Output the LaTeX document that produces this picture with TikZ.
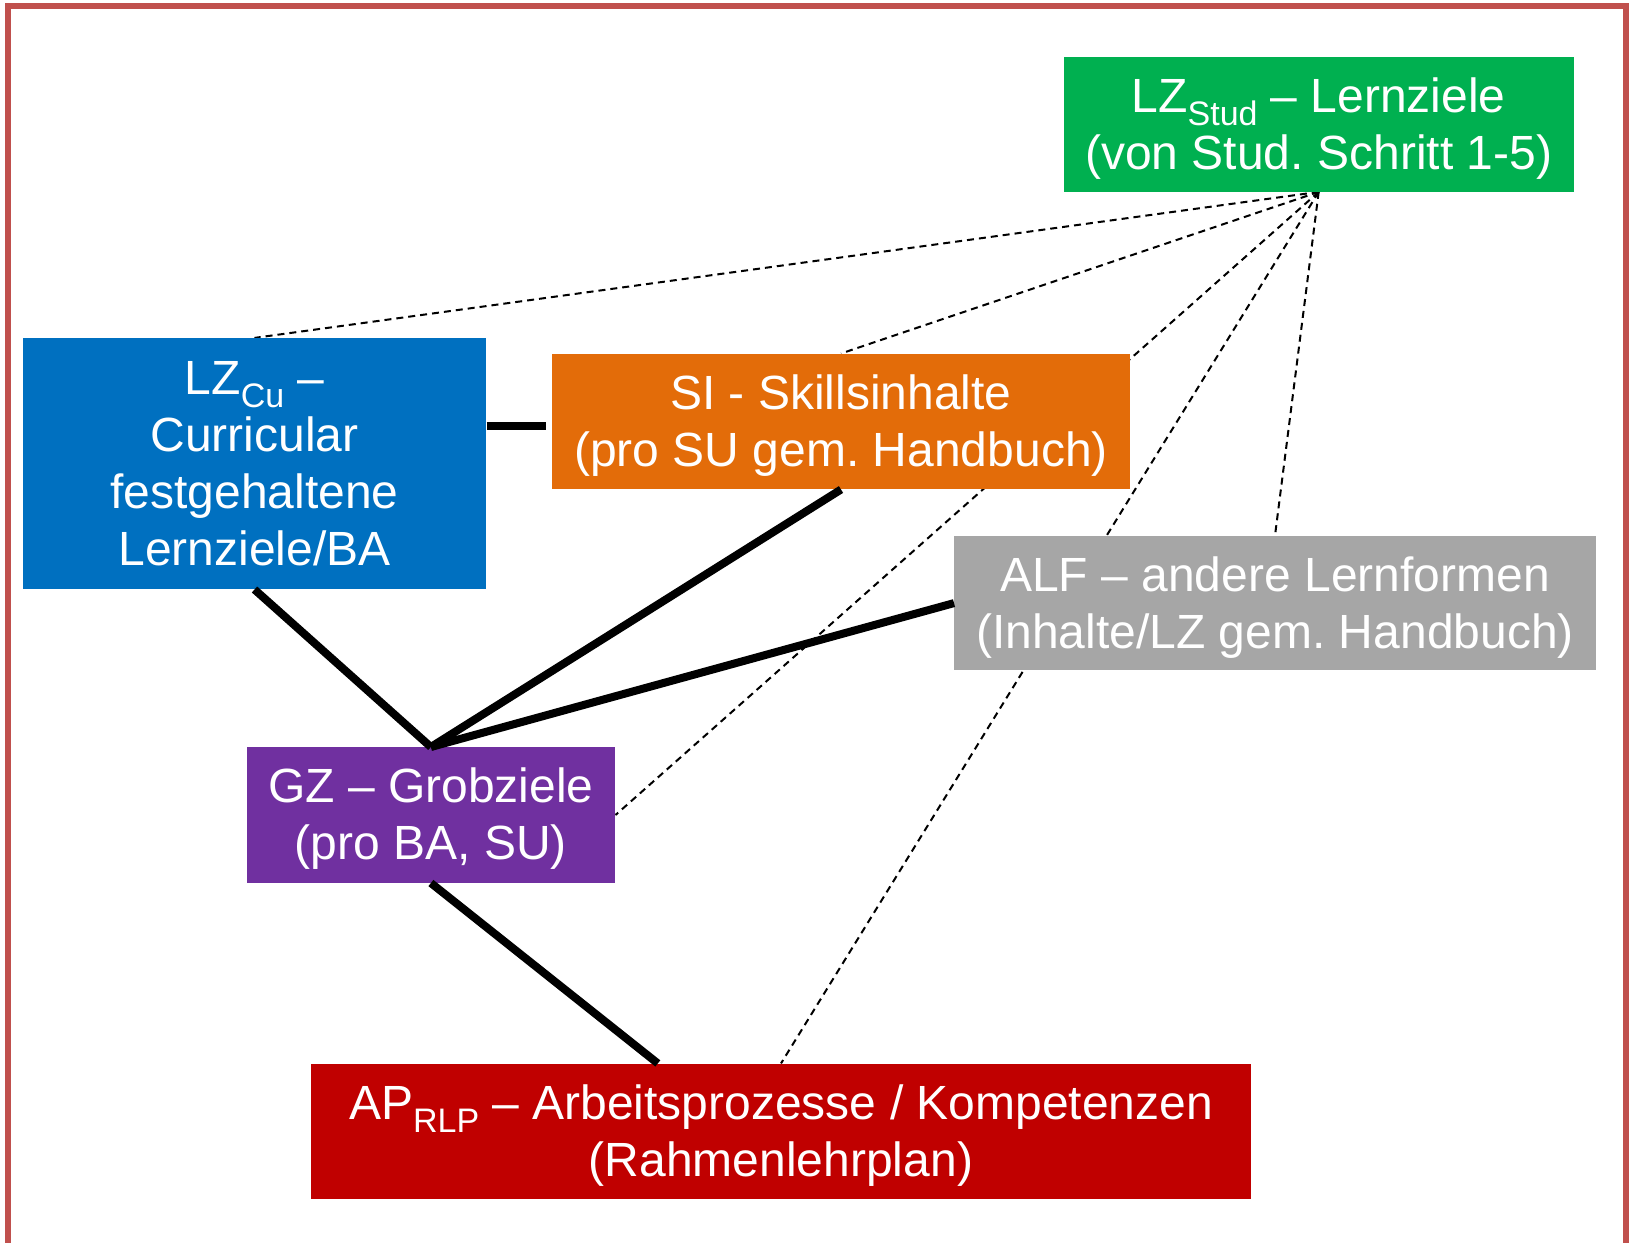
\documentclass[tikz,border=0pt]{standalone}
\usepackage{fontspec}
\setmainfont{Liberation Sans}
\frenchspacing
\definecolor{cgreen}{HTML}{00B050}
\definecolor{cblue}{HTML}{0070C0}
\definecolor{corange}{HTML}{E36C09}
\definecolor{cgray}{HTML}{A6A6A6}
\definecolor{cpurple}{HTML}{7030A0}
\definecolor{cred}{HTML}{C00000}
\definecolor{cframe}{HTML}{C0504D}
\pgfdeclarelayer{bottom}
\pgfdeclarelayer{background}
\pgfsetlayers{bottom,background,main}
\newcommand\subx[1]{\raisebox{-6.5pt}{\fontsize{17}{18}\selectfont #1}}
\tikzset{
  box/.style={rectangle, inner sep=0pt},
  txt/.style={inner sep=0pt, align=center, text=white,
    font=\fontsize{24}{28.5}\selectfont},
  solidline/.style={line width=4pt, black},
  dashline/.style={line width=1pt, black, dash pattern=on 3.5pt off 2.5pt}
}
\begin{document}
\begin{tikzpicture}[x=0.5pt, y=-0.5pt]
\useasboundingbox (0,0) rectangle (1632,1242);
\begin{pgfonlayer}{bottom}
\fill[white] (0,0) rectangle (1632,1242);
\end{pgfonlayer}
\draw[cframe, line width=3pt] (8,6) rectangle (1626,1270);

% boxes (nodes)
\node[box, fill=cgreen, minimum width=255pt, minimum height=67.2pt,
  label={[txt, yshift=-2pt]center:{LZ\subx{Stud} -- Lernziele\\(von Stud. Schritt 1-5)}}] (stud) at (1318.7,124.3) {};
\node[box, fill=cblue, minimum width=231.6pt, minimum height=125.4pt,
  label={[txt]center:{LZ\subx{Cu} --\\Curricular\\festgehaltene\\Lernziele/BA}}] (cu) at (254.5,463.7) {};
\node[box, fill=corange, minimum width=289.4pt, minimum height=67.6pt,
  label={[txt, yshift=-2pt]center:{SI - Skillsinhalte\\(pro SU gem. Handbuch)}}] (si) at (841,421.5) {};
\node[box, fill=cgray, minimum width=320.6pt, minimum height=67.2pt,
  label={[txt, yshift=-2pt]center:{ALF -- andere Lernformen\\(Inhalte/LZ gem. Handbuch)}}] (alf) at (1275,603.1) {};
\node[box, fill=cpurple, minimum width=184.2pt, minimum height=67.6pt,
  label={[txt, yshift=-2pt]center:{GZ -- Grobziele\\(pro BA, SU)}}] (gz) at (430.9,815) {};
\node[box, fill=cred, minimum width=470pt, minimum height=67.6pt,
  label={[txt, yshift=-2pt]center:{AP\subx{RLP} -- Arbeitsprozesse / Kompetenzen\\(Rahmenlehrplan)}}] (ap) at (781,1131.4) {};

% dashed connectors (behind boxes)
\begin{pgfonlayer}{background}
\draw[dashline] (stud.south) -- (cu.north);
\draw[dashline] (stud.south) -- (si.north);
\draw[dashline] (stud.south) -- (gz.east);
\draw[dashline] (stud.south) -- (alf.north);
\draw[dashline] (stud.south) -- (ap.north);
\end{pgfonlayer}

% solid connectors
\coordinate (cuend) at ([yshift=-2.25pt]si.west);
\draw[solidline] (cu.east |- cuend) -- ([xshift=-2.75pt]cuend);
\draw[solidline] (cu.south) -- (gz.north);
\draw[solidline] (si.south) -- (gz.north);
\draw[solidline] (alf.west) -- (gz.north);
\coordinate (apin) at ([xshift=-61.6pt]ap.north);
\draw[solidline] (gz.south) -- (apin);
\end{tikzpicture}
\end{document}
